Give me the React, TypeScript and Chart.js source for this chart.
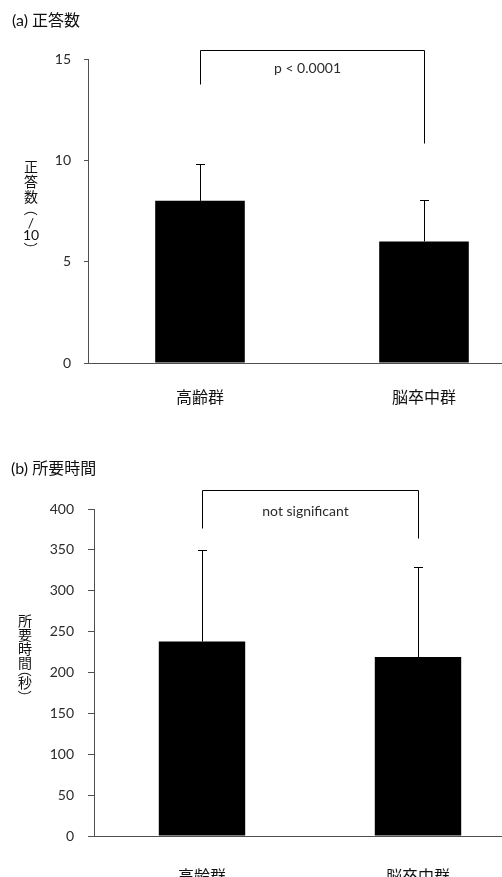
import { useEffect, useRef } from 'react';
import { Chart, registerables } from 'chart.js';

Chart.register(...registerables);

// groups compared in both panels
const groups = ['高齢群', '脳卒中群'];

// (a) correct answers out of 10: mean and standard deviation
const scoreMeans = [8.0, 6.0];
const scoreSD = [1.8, 2.05];
const scoreTicks = [0, 5, 10, 15];
// bracket: top level, left leg end, right leg end
const scoreBracket = [15.45, 13.75, 10.85];
const scoreTest = 'p < 0.0001';

// (b) time required in seconds: mean and standard deviation
const timeMeans = [238, 219];
const timeSD = [112, 110];
const timeTicks = [0, 50, 100, 150, 200, 250, 300, 350, 400];
const timeBracket = [423, 377, 364];
const timeTest = 'not significant';

const LATIN = 'Lato, "Noto Sans CJK JP", sans-serif';
const CJK = '"Noto Sans CJK JP", sans-serif';
const AXIS = '#505050';
const TEXT = '#2b2b2b';

type VChar = { t: string; y: number; rot?: boolean };

type PanelCfg = {
  title: string;
  titleX: number;
  titleY: number;
  yTitle: VChar[];
  yTitleX: number;
  yTitleSize: number;
  means: number[];
  sd: number[];
  bracket: number[];
  test: string;
  testDy: number;
};

function panelPlugin(cfg: PanelCfg) {
  return {
    id: 'panelExtras',
    afterDatasetsDraw(chart: any) {
      const { ctx } = chart;
      const xs = chart.scales.x;
      const ys = chart.scales.y;
      const px = (i: number) => Math.round(xs.getPixelForValue(i)) + 0.5;
      const py = (v: number) => Math.round(ys.getPixelForValue(v)) + 0.5;

      ctx.save();
      ctx.strokeStyle = '#000';
      ctx.lineWidth = 1;

      // upper error bars with caps
      cfg.means.forEach((m, i) => {
        const cx = px(i);
        const top = py(m + cfg.sd[i]);
        ctx.beginPath();
        ctx.moveTo(cx, ys.getPixelForValue(m));
        ctx.lineTo(cx, top);
        ctx.moveTo(cx - 4.5, top);
        ctx.lineTo(cx + 4.5, top);
        ctx.stroke();
      });

      // significance bracket between the two groups
      const [topV, leftEnd, rightEnd] = cfg.bracket;
      const lx = px(0);
      const rx = px(1);
      const ty = py(topV);
      ctx.beginPath();
      ctx.moveTo(lx, py(leftEnd));
      ctx.lineTo(lx, ty);
      ctx.lineTo(rx, ty);
      ctx.lineTo(rx, py(rightEnd));
      ctx.stroke();

      ctx.fillStyle = TEXT;
      ctx.font = `14px ${LATIN}`;
      ctx.textAlign = 'center';
      ctx.textBaseline = 'middle';
      ctx.fillText(cfg.test, (lx + rx) / 2 - 5, ty + cfg.testDy);

      // panel title
      ctx.font = `16px ${LATIN}`;
      ctx.textAlign = 'left';
      ctx.fillStyle = '#111';
      ctx.fillText(cfg.title, cfg.titleX, cfg.titleY);

      // vertical axis title, one character per line
      ctx.font = `${cfg.yTitleSize}px ${LATIN}`;
      ctx.textAlign = 'center';
      cfg.yTitle.forEach((c) => {
        ctx.save();
        ctx.translate(cfg.yTitleX, c.y);
        if (c.rot) ctx.rotate(Math.PI / 2);
        ctx.fillText(c.t, 0, 0);
        ctx.restore();
      });

      ctx.restore();
    },
  };
}

function makeChart(
  canvas: HTMLCanvasElement,
  means: number[],
  ticks: number[],
  layout: { top: number; yWidth: number; xHeight: number; tickLen: number; tickPad: number; labelPad: number },
  cfg: PanelCfg,
) {
  return new Chart(canvas, {
    type: 'bar',
    data: {
      labels: groups,
      datasets: [
        {
          data: means,
          backgroundColor: '#000',
          borderWidth: 0,
          barPercentage: 0.8,
          categoryPercentage: 0.5,
        },
      ],
    },
    options: {
      responsive: false,
      animation: false,
      events: [],
      layout: { padding: { top: layout.top, left: 0, right: 0, bottom: 0 } },
      plugins: { legend: { display: false }, tooltip: { enabled: false }, title: { display: false } },
      scales: {
        x: {
          grid: { display: false, drawTicks: false },
          border: { display: true, color: AXIS, width: 1 },
          ticks: {
            color: '#111',
            padding: layout.labelPad,
            font: { family: CJK, size: 16 },
            maxRotation: 0,
          },
          afterFit: (s: any) => {
            s.height = layout.xHeight;
          },
        },
        y: {
          min: ticks[0],
          max: ticks[ticks.length - 1],
          grid: {
            drawOnChartArea: false,
            drawTicks: true,
            tickLength: layout.tickLen,
            color: AXIS,
          },
          border: { display: true, color: AXIS, width: 1 },
          ticks: {
            color: TEXT,
            padding: layout.tickPad,
            font: { family: LATIN, size: 14 },
          },
          afterBuildTicks: (s: any) => {
            s.ticks = ticks.map((v) => ({ value: v }));
          },
          afterFit: (s: any) => {
            s.width = layout.yWidth;
          },
        },
      },
    },
    plugins: [panelPlugin(cfg)],
  } as any);
}

export default function App() {
  const refA = useRef<HTMLCanvasElement>(null);
  const refB = useRef<HTMLCanvasElement>(null);

  useEffect(() => {
    const a = makeChart(
      refA.current!,
      scoreMeans,
      scoreTicks,
      { top: 59, yWidth: 88, xHeight: 77, tickLen: 4, tickPad: 13, labelPad: 24 },
      {
        title: '(a) 正答数',
        titleX: 12,
        titleY: 21,
        yTitle: [
          { t: '正', y: 167 },
          { t: '答', y: 182 },
          { t: '数', y: 197 },
          { t: '（', y: 209, rot: true },
          { t: '/', y: 223 },
          { t: '10', y: 235 },
          { t: '）', y: 249, rot: true },
        ],
        yTitleX: 31,
        yTitleSize: 14,
        means: scoreMeans,
        sd: scoreSD,
        bracket: scoreBracket,
        test: scoreTest,
        testDy: 18,
      },
    );
    const b = makeChart(
      refB.current!,
      timeMeans,
      timeTicks,
      { top: 69, yWidth: 94, xHeight: 64, tickLen: 6, tickPad: 14, labelPad: 30 },
      {
        title: '(b) 所要時間',
        titleX: 11,
        titleY: 29,
        yTitle: [
          { t: '所', y: 181 },
          { t: '要', y: 195 },
          { t: '時', y: 209 },
          { t: '間', y: 223 },
          { t: '（', y: 230, rot: true },
          { t: '秒', y: 243 },
          { t: '）', y: 257, rot: true },
        ],
        yTitleX: 25,
        yTitleSize: 14,
        means: timeMeans,
        sd: timeSD,
        bracket: timeBracket,
        test: timeTest,
        testDy: 21,
      },
    );
    return () => {
      a.destroy();
      b.destroy();
    };
  }, []);

  return (
    <div
      style={{
        position: 'absolute',
        left: 0,
        top: 0,
        width: 502,
        height: 877,
        overflow: 'hidden',
        background: '#fff',
      }}
    >
      <canvas ref={refA} width={536} height={440} style={{ position: 'absolute', left: 0, top: 0 }} />
      <canvas ref={refB} width={526} height={460} style={{ position: 'absolute', left: 0, top: 440 }} />
    </div>
  );
}
